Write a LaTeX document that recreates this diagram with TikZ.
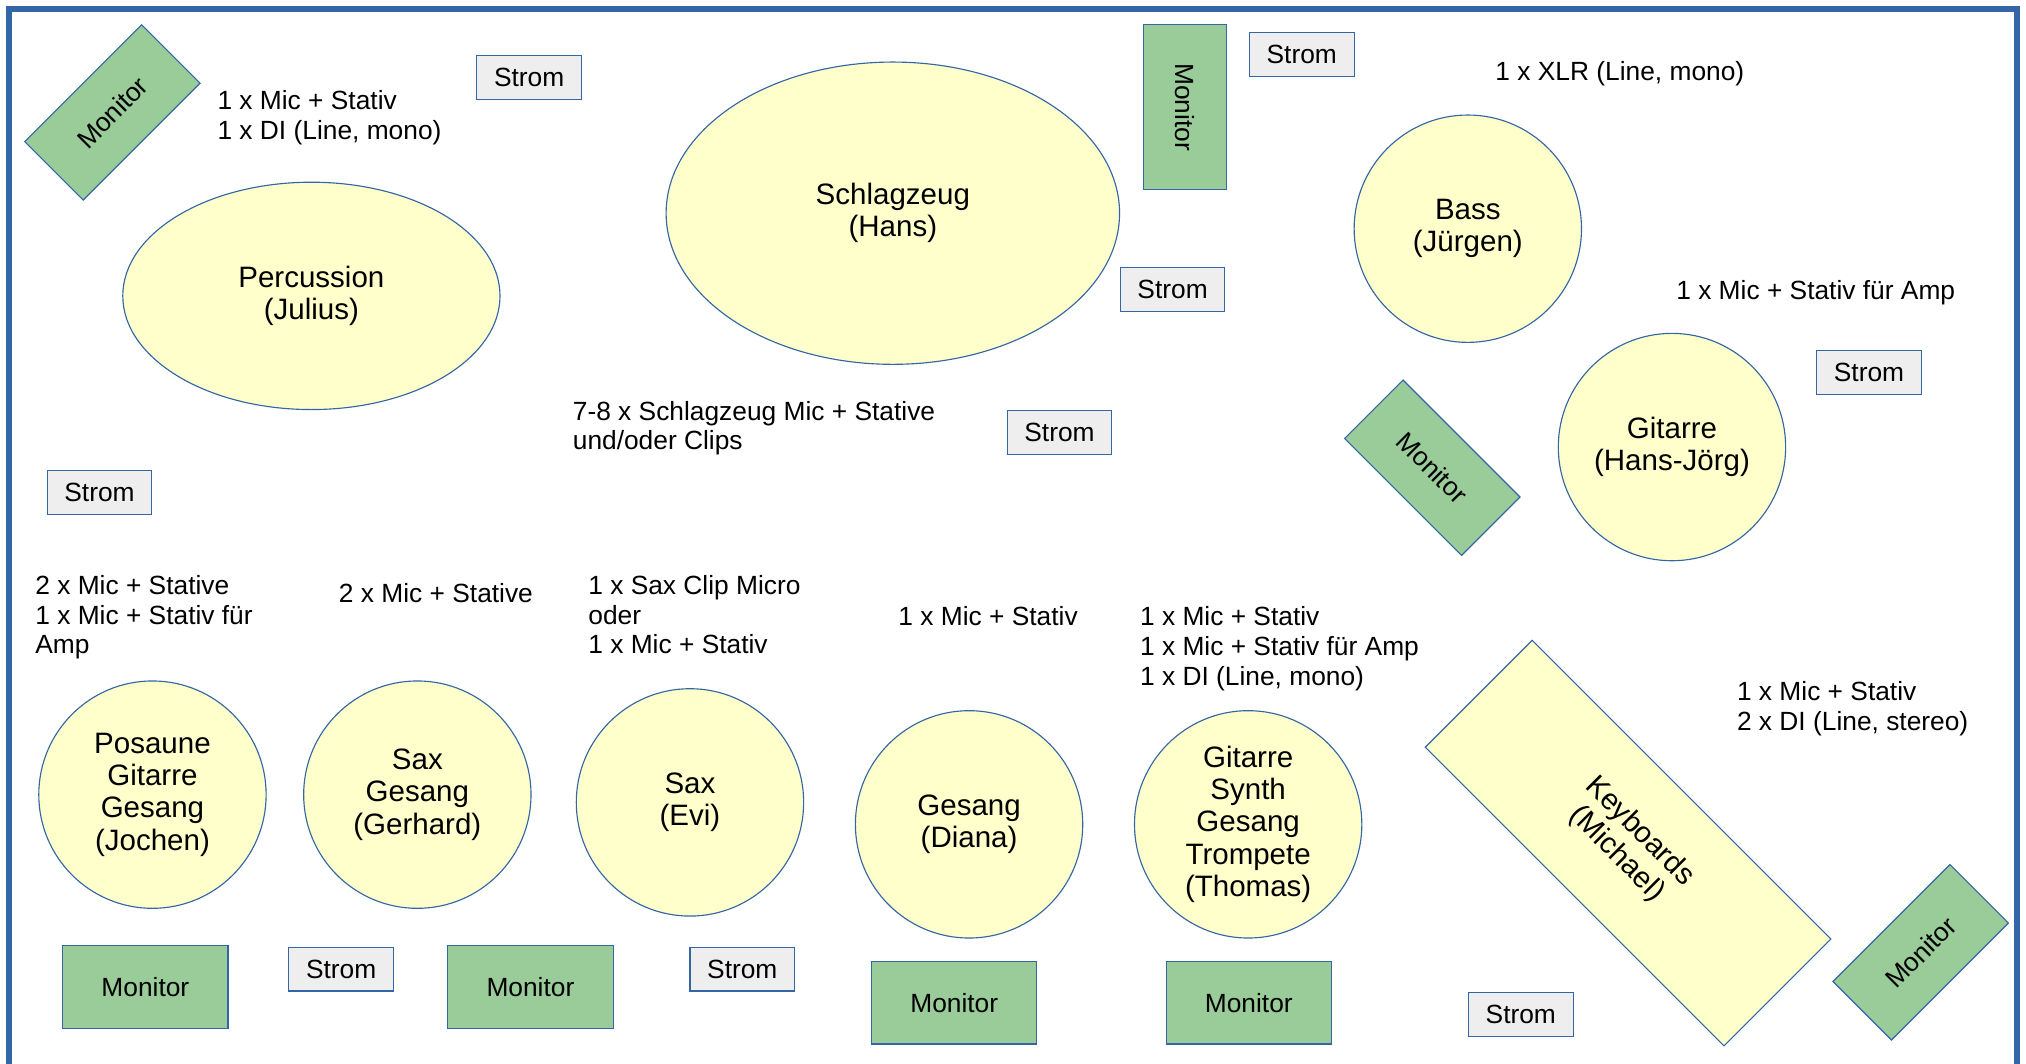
\documentclass[tikz,border=0pt]{standalone}
\usepackage{fontspec}
\setmainfont{Liberation Sans}
\usepackage{tikz}
\usetikzlibrary{shapes.geometric}
\definecolor{lineblue}{HTML}{3465A4}
\definecolor{playeryellow}{HTML}{FFFFCC}
\definecolor{monitorgreen}{HTML}{99CC99}
\definecolor{stromgrey}{HTML}{EEEEEE}

\begin{document}
\begin{tikzpicture}[x=0.02cm,y=-0.02cm,
  player/.style={draw=lineblue,fill=playeryellow,line width=0.5pt,align=center,inner sep=1pt,font=\fontsize{13}{14.2}\selectfont},
  circ/.style={player,circle,minimum size=3.52cm},
  monitorbox/.style={draw=lineblue,fill=monitorgreen,line width=0.5pt,rectangle,minimum width=2.56cm,minimum height=1.28cm,font=\fontsize{11.6}{14.2}\selectfont},
  strombox/.style={draw=lineblue,fill=stromgrey,line width=0.5pt,rectangle,minimum width=1.62cm,minimum height=0.68cm,font=\fontsize{11.6}{14.2}\selectfont},
  note/.style={anchor=north west,align=left,inner sep=0pt,font=\fontsize{11.6}{13.1}\selectfont}]
\useasboundingbox (0,0) rectangle (1568,823.4);
\draw[lineblue,line width=2.3pt] (7,823.4) |- (1561,7) -- (1561,823.4);

% upper half
\node[monitorbox,rotate=45] (monPerc) at (87,87) {Monitor};
\node[note] (notePerc) at (168,70) {1 x Mic + Stativ\\1 x DI (Line, mono)};
\node[strombox] (stromPerc) at (409.5,60) {Strom};
\node[player,ellipse,minimum width=5.84cm,minimum height=3.52cm] (percussion) at (241,229) {Percussion\\(Julius)};
\node[strombox] (stromLeft) at (77,381) {Strom};

\node[player,ellipse,minimum width=7.02cm,minimum height=4.68cm] (drums) at (691,165) {Schlagzeug\\(Hans)};
\node[note] (noteDrums) at (443,310) {7-8 x Schlagzeug Mic + Stative\\und/oder Clips};
\node[strombox] (stromDrums) at (820,335) {Strom};
\node[monitorbox,rotate=-90] (monDrums) at (917,83) {Monitor};
\node[strombox] (stromTop) at (1007.5,42) {Strom};
\node[strombox] (stromMid) at (907.5,224) {Strom};

\node[note] (noteBass) at (1157,47) {1 x XLR (Line, mono)};
\node[circ] (bass) at (1136,177) {Bass\\(Jürgen)};
\node[note] (noteGit) at (1297,217) {1 x Mic + Stativ für Amp};
\node[strombox] (stromGit) at (1446.5,288) {Strom};
\node[circ] (gitarre) at (1294,346) {Gitarre\\(Hans-Jörg)};
\node[monitorbox,rotate=-45] (monGit) at (1108.5,362) {Monitor};

% front row
\node[note] (notePos) at (27,445) {2 x Mic + Stative\\1 x Mic + Stativ für\\Amp};
\node[note] (noteGerhard) at (262,451) {2 x Mic + Stative};
\node[note] (noteEvi) at (455,445) {1 x Sax Clip Micro\\oder\\1 x Mic + Stativ};
\node[note] (noteDiana) at (695,469) {1 x Mic + Stativ};
\node[note] (noteThomas) at (882,469) {1 x Mic + Stativ\\1 x Mic + Stativ für Amp\\1 x DI (Line, mono)};
\node[note] (noteKeys) at (1344,527) {1 x Mic + Stativ\\2 x DI (Line, stereo)};

\node[circ] (jochen) at (118,615) {Posaune\\Gitarre\\Gesang\\(Jochen)};
\node[circ] (gerhard) at (323,615) {Sax\\Gesang\\(Gerhard)};
\node[circ] (evi) at (534,621) {Sax\\(Evi)};
\node[circ] (diana) at (750,638) {Gesang\\(Diana)};
\node[circ] (thomas) at (966,638) {Gitarre\\Synth\\Gesang\\Trompete\\(Thomas)};
\node[player,rectangle,rotate=-45,minimum width=6.54cm,minimum height=2.34cm] (keys) at (1260,652.5) {Keyboards\\(Michael)};

\node[monitorbox] (monJochen) at (112.5,764) {Monitor};
\node[strombox] (stromJochen) at (264,750) {Strom};
\node[monitorbox] (monGerhard) at (410.5,764) {Monitor};
\node[strombox] (stromEvi) at (574.5,750) {Strom};
\node[monitorbox] (monDiana) at (738.5,776) {Monitor};
\node[monitorbox] (monThomas) at (966.5,776) {Monitor};
\node[strombox] (stromKeys) at (1177,785) {Strom};
\node[monitorbox,rotate=45] (monKeys) at (1486.5,737) {Monitor};
\end{tikzpicture}
\end{document}
